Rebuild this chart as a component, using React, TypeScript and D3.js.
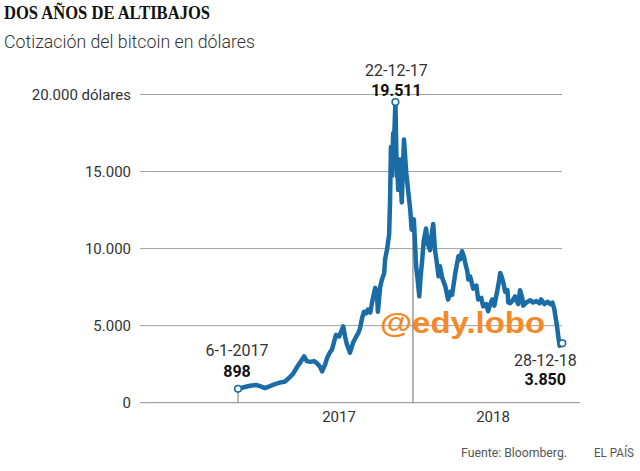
import React from "react";
import * as d3 from "d3";

// ---------- DATA ----------
const dates: string[] = [
  "2017-01-06","2017-01-19","2017-02-02","2017-02-15","2017-02-24","2017-03-07","2017-03-18","2017-03-29",
  "2017-04-09","2017-04-21","2017-04-29","2017-05-08","2017-05-17","2017-05-24","2017-06-02","2017-06-08",
  "2017-06-15","2017-06-24","2017-07-01","2017-07-07","2017-07-12","2017-07-19","2017-07-23","2017-07-30",
  "2017-08-03","2017-08-08","2017-08-12","2017-08-19","2017-08-23","2017-08-28","2017-09-01","2017-09-05",
  "2017-09-12","2017-09-19","2017-09-26","2017-09-30","2017-10-04","2017-10-09","2017-10-13","2017-10-18",
  "2017-10-22","2017-10-27","2017-10-31","2017-11-07","2017-11-11","2017-11-13","2017-11-18","2017-11-22",
  "2017-11-27","2017-11-29","2017-12-03","2017-12-08","2017-12-10","2017-12-12","2017-12-14","2017-12-17",
  "2017-12-19","2017-12-22","2017-12-25","2017-12-26","2017-12-28","2018-01-01","2018-01-05","2018-01-10",
  "2018-01-15","2018-01-19","2018-01-24","2018-01-27","2018-01-30","2018-02-01","2018-02-06","2018-02-10",
  "2018-02-13","2018-02-16","2018-02-19","2018-02-23","2018-02-28","2018-03-04","2018-03-09","2018-03-12",
  "2018-03-16","2018-03-20","2018-03-23","2018-03-28","2018-03-31","2018-04-05","2018-04-12","2018-04-18",
  "2018-04-23","2018-04-27","2018-05-04","2018-05-11","2018-05-15","2018-05-19","2018-05-24","2018-05-26",
  "2018-05-31","2018-06-02","2018-06-06","2018-06-13","2018-06-20","2018-06-24","2018-07-01","2018-07-05",
  "2018-07-12","2018-07-16","2018-07-21","2018-07-25","2018-07-30","2018-08-05","2018-08-10","2018-08-12",
  "2018-08-16","2018-08-19","2018-08-23","2018-08-28","2018-08-30","2018-09-03","2018-09-08","2018-09-14",
  "2018-09-21","2018-09-25","2018-09-30","2018-10-02","2018-10-09","2018-10-18","2018-10-24","2018-10-31",
  "2018-11-07","2018-11-11","2018-11-18","2018-11-25","2018-12-01","2018-12-06","2018-12-10","2018-12-15",
  "2018-12-17","2018-12-19","2018-12-22","2018-12-26","2018-12-28",
];
const prices: number[] = [
  898,1000,1100,1150,1080,950,1080,1200,
  1300,1380,1600,1850,2300,2600,3000,2700,
  2650,2700,2550,2350,2030,2500,2900,3300,
  3450,4000,4400,4300,4600,4950,4300,3800,
  3250,3900,4300,4500,4800,5500,5900,5800,
  6050,5850,6500,7450,7000,5900,7500,8000,
  8400,9300,9900,10900,13000,16600,14700,17500,
  17000,19511,14700,15800,13800,15780,12990,17080,
  14940,13830,12500,11230,11700,11900,8850,7800,
  6900,8200,9100,10500,11300,10300,9900,10800,
  11600,9900,9300,8200,8850,8100,7550,6690,
  7200,7000,8400,9500,9300,9830,9400,9090,
  8500,8000,8200,7400,7600,6700,6800,6250,
  6400,5930,6400,6700,6300,7200,8000,8420,
  8100,7770,7200,7300,6500,6450,6600,6900,
  6400,7300,6800,6300,6500,6650,6500,6600,
  6450,6700,6400,6550,6400,6500,6100,5200,
  4800,4300,3700,3800,3850,
];
const yTicks: number[] = [0, 5000, 10000, 15000, 20000];
const yearLabels: string[] = ["2017", "2018"];
const dividerDate = "2018-01-30";
const annotDates: string[] = ["2017-01-06", "2017-12-22", "2018-12-28"];
const annotLabels: string[] = ["6-1-2017", "22-12-17", "28-12-18"];
const annotValues: number[] = [898, 19511, 3850];

// ---------- LAYOUT ----------
const W = 640, H = 471;
const plotLeft = 140, gridRight = 562, axisRight = 580;
const annotLayout = [
  { dx: -1, dyLabel: -33, dyValue: -12 },
  { dx: 1, dyLabel: -26, dyValue: -6 },
  { dx: -17, dyLabel: 23, dyValue: 42 },
];
const BLUE = "#1a6ca6";
const SANS = "Roboto, 'Noto Sans', sans-serif";

const locale = d3.formatLocale({ decimal: ",", thousands: ".", grouping: [3], currency: ["", " €"] });
const fmt = locale.format(",d");

export default function App() {
  const parse = d3.utcParse("%Y-%m-%d");
  const data = dates.map((d, i) => ({ date: parse(d) as Date, value: prices[i] }));

  const x = d3.scaleUtc()
    .domain([parse(dates[0]) as Date, parse(dates[dates.length - 1]) as Date])
    .range([238, 562.3]);
  const y = d3.scaleLinear().domain([0, 20000]).range([402.7, 94.5]);
  const years = d3.scaleBand<string>().domain(yearLabels).range([262, 570]);

  const line = d3.line<{ date: Date; value: number }>()
    .x((d) => x(d.date))
    .y((d) => y(d.value))
    .curve(d3.curveLinear);

  const divX = x(parse(dividerDate) as Date);
  const divIdx = dates.indexOf(dividerDate);
  const divTop = y(prices[divIdx]);

  return (
    <svg width={W} height={H} style={{ position: "absolute", left: 0, top: 0, background: "#fff" }}>
      <rect x={0} y={0} width={W} height={H} fill="#fff" />
      <text x={4} y={19} fontFamily="'Liberation Serif', 'DejaVu Serif', serif" fontWeight={700}
        fontSize={18} fill="#111" textLength={206} lengthAdjust="spacingAndGlyphs">
        DOS AÑOS DE ALTIBAJOS
      </text>
      <text x={4} y={48} fontFamily={SANS} fontWeight={300} fontSize={18} fill="#333"
        textLength={251} lengthAdjust="spacingAndGlyphs">
        Cotización del bitcoin en dólares
      </text>

      {yTicks.map((t) => (
        <g key={t}>
          <line x1={plotLeft} x2={t === 0 ? axisRight : gridRight} y1={y(t)} y2={y(t)}
            stroke={t === 0 ? "#8a8a8a" : "#a0a0a0"} strokeWidth={1} />
          <text x={131} y={y(t)} dy="0.36em" textAnchor="end" fontFamily={SANS} fontSize={15} fill="#333">
            {t === 20000 ? `${fmt(t)} dólares` : fmt(t)}
          </text>
        </g>
      ))}

      <line x1={divX} x2={divX} y1={y(0)} y2={divTop} stroke="#666" strokeWidth={1} />
      <line x1={x(data[0].date)} x2={x(data[0].date)} y1={y(0)} y2={y(prices[0])} stroke="#777" strokeWidth={1} />

      {yearLabels.map((yr) => (
        <text key={yr} x={(years(yr) as number) + years.bandwidth() / 2} y={421.5} textAnchor="middle"
          fontFamily={SANS} fontSize={15} fill="#333">
          {yr}
        </text>
      ))}

      <path d={line(data) as string} fill="none" stroke={BLUE} strokeWidth={4.5}
        strokeLinejoin="round" strokeLinecap="round" />

      {annotDates.map((ad, i) => {
        const cx = x(parse(ad) as Date);
        const cy = y(annotValues[i]);
        const L = annotLayout[i];
        return (
          <g key={ad}>
            <circle cx={cx} cy={cy} r={3.3} fill="#fff" stroke={BLUE} strokeWidth={1.6} />
            <text x={cx + L.dx} y={cy + L.dyLabel} textAnchor="middle" fontFamily={SANS} fontSize={16} fill="#333">
              {annotLabels[i]}
            </text>
            <text x={cx + L.dx} y={cy + L.dyValue} textAnchor="middle" fontFamily={SANS} fontWeight={700}
              fontSize={16} fill="#111">
              {fmt(annotValues[i])}
            </text>
          </g>
        );
      })}

      <text x={380} y={333} fontFamily="'Liberation Sans', Arial, sans-serif" fontWeight={700} fontSize={29}
        fill="#f28a2a" textLength={165} lengthAdjust="spacingAndGlyphs">
        @edy.lobo
      </text>

      <text x={461} y={457} fontFamily={SANS} fontSize={13} fill="#555" textLength={106} lengthAdjust="spacingAndGlyphs">
        Fuente: Bloomberg.
      </text>
      <text x={594} y={457} fontFamily={SANS} fontSize={13} fill="#555" textLength={40} lengthAdjust="spacingAndGlyphs">
        EL PAÍS
      </text>
    </svg>
  );
}
